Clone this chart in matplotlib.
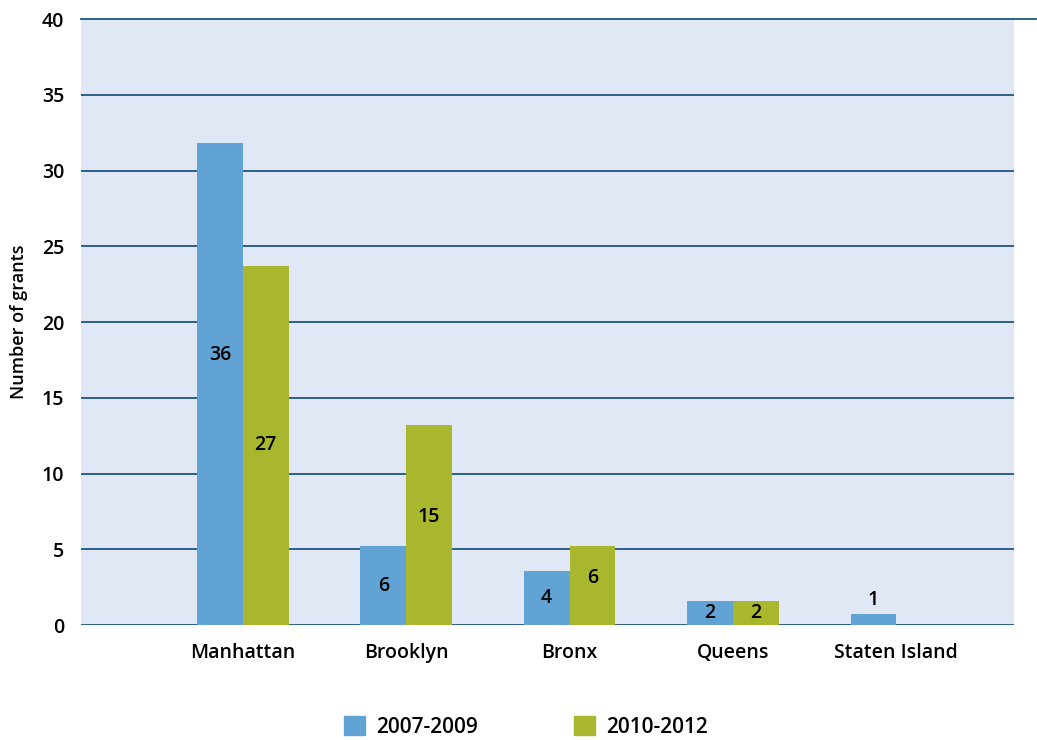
import numpy as np
import matplotlib
matplotlib.use("Agg")
import matplotlib.pyplot as plt
from matplotlib.patches import Patch

plt.rcParams["font.family"] = ["Open Sans", "DejaVu Sans"]

boroughs   = ["Manhattan", "Brooklyn", "Bronx", "Queens", "Staten Island"]
series     = ["2007-2009", "2010-2012"]
# bar heights as drawn in the original (they don't match the printed labels)
h_0709     = [31.8, 5.2, 3.55, 1.6, 0.75]
h_1012     = [23.7, 13.2, 5.2, 1.6, 0.0]
lab_0709   = ["36", "6", "4", "2", "1"]
lab_1012   = ["27", "15", "6", "2", ""]

BLUE  = "#62a3d6"
GREEN = "#a8b72e"
BG    = "#e1e8f5"
GRID  = "#1f5680"

fig = plt.figure(figsize=(10.37, 7.40), dpi=100)
ax = fig.add_axes([0.0781, 0.1554, 0.8997, 0.8189])
ax.set_facecolor(BG)

x = np.arange(len(boroughs)) * 1.0
w = 0.28
ax.bar(x - w / 2, h_0709, w, color=BLUE, zorder=3)
ax.bar(x + w / 2, h_1012, w, color=GREEN, zorder=3)

for i in range(len(boroughs)):
    if lab_0709[i]:
        y = h_0709[i] / 2 if h_0709[i] > 1 else h_0709[i] + 0.9
        if i == 0:
            y = h_0709[i] * 0.56
        ax.text(x[i] - w / 2, y, lab_0709[i], ha="center", va="center",
                fontsize=14, fontweight="semibold", zorder=4)
    if lab_1012[i]:
        y = h_1012[i] / 2
        if i == 1:
            y = h_1012[i] * 0.54
        if i == 2:
            y = h_1012[i] * 0.6
        ax.text(x[i] + w / 2, y, lab_1012[i], ha="center", va="center",
                fontsize=14, fontweight="semibold", zorder=4)

ax.set_ylim(0, 40)
ax.set_xlim(-0.99, 4.72)
ax.set_yticks(np.arange(0, 41, 5))
for yv in np.arange(0, 41, 5):
    ax.axhline(yv, color=GRID, lw=1.3, zorder=2,
               xmax=1.024 if yv == 40 else 1, clip_on=(yv != 40))

ax.set_xticks(x)
ax.set_xticklabels(boroughs, fontsize=14, fontweight="semibold")
ax.tick_params(axis="both", length=0)
ax.tick_params(axis="x", pad=13)
ax.tick_params(axis="y", pad=12, labelsize=14)
for t in ax.get_yticklabels():
    t.set_fontweight("semibold")
for spine in ax.spines.values():
    spine.set_visible(False)

ax.set_ylabel("Number of grants", fontsize=13, fontweight="semibold", labelpad=10)

handles = [Patch(color=BLUE, label=series[0]), Patch(color=GREEN, label=series[1])]
fig.legend(handles=handles, loc="lower center", bbox_to_anchor=(0.507, -0.022), ncol=2,
           frameon=False, prop={"size": 15, "weight": "semibold"},
           handlelength=1.0, handleheight=1.0, columnspacing=4.6, handletextpad=0.55)

fig.savefig("out.png", dpi=100)
